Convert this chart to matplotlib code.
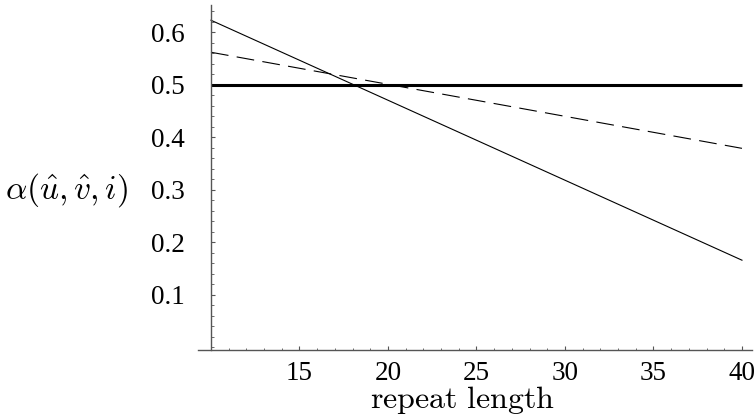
import matplotlib
matplotlib.use("Agg")
import matplotlib.pyplot as plt
from matplotlib.ticker import MultipleLocator, FixedLocator

plt.rcParams['mathtext.fontset'] = 'cm'
plt.rcParams['font.family'] = ['Liberation Serif', 'DejaVu Serif']

# repeat length values and the three curves
repeat_len = [10, 40]
alpha_solid = [0.623, 0.166]
alpha_dashed = [0.562, 0.379]
alpha_thick = [0.5, 0.5]

x_ticks = [15, 20, 25, 30, 35, 40]
y_ticks = [0.1, 0.2, 0.3, 0.4, 0.5, 0.6]

fig = plt.figure(figsize=(7.55, 4.2), dpi=100)
ax = fig.add_axes([0.2623, 0.1667, 0.7338, 0.8214])

ax.plot(repeat_len, alpha_solid, color='black', lw=0.8)
ax.plot(repeat_len, alpha_dashed, color='black', lw=0.8, dashes=(16, 7.5))
ax.plot(repeat_len, alpha_thick, color='black', lw=2.2, solid_capstyle='butt')

ax.set_xlim(9.27, 40.57)
ax.set_ylim(-0.005, 0.652)

axis_col = '#555555'
ax.spines['top'].set_visible(False)
ax.spines['right'].set_visible(False)
ax.spines['left'].set_position(('data', 10))
ax.spines['left'].set_color(axis_col)
ax.spines['bottom'].set_color(axis_col)
ax.spines['left'].set_linewidth(1.0)
ax.spines['bottom'].set_linewidth(1.0)

ax.xaxis.set_major_locator(FixedLocator(x_ticks))
ax.xaxis.set_minor_locator(MultipleLocator(1))
ax.yaxis.set_major_locator(FixedLocator(y_ticks))
ax.yaxis.set_minor_locator(MultipleLocator(0.02))
ax.set_xticklabels([str(t) for t in x_ticks])
ax.set_yticklabels([f'{t:.1f}' for t in y_ticks])

ax.tick_params(which='major', direction='in', length=3.2, width=0.8, color=axis_col,
               labelsize=19.5, pad=8)
ax.tick_params(which='minor', direction='in', length=1.8, width=0.6, color=axis_col)
ax.tick_params(axis='y', which='major', pad=19)

fig.text(0.612, 0.0286, r'$\mathrm{repeat\ length}$', fontsize=23, ha='center', va='baseline')
fig.text(0.088, 0.548, r'$\alpha(\hat{u},\hat{v},i)$', fontsize=24, ha='center', va='center')

fig.savefig('out.png', dpi=100)
